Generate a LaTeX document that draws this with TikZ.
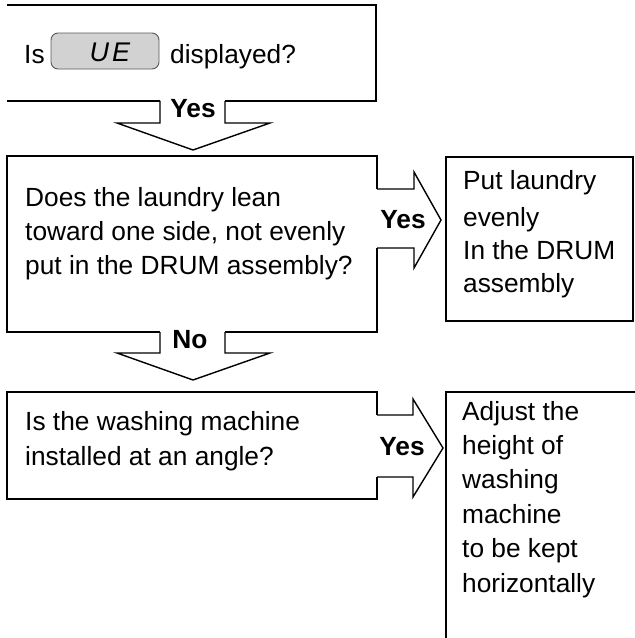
\documentclass[tikz,border=0pt]{standalone}
\usepackage{fontspec}
\setmainfont{Liberation Sans}
\begin{document}
\begin{tikzpicture}[x=1pt,y=-1pt,
  boxline/.style={draw=black,line width=1.8pt,line join=miter},
  arrowline/.style={draw=black,line width=1.4pt,line join=miter},
  txt/.style={anchor=base west,inner sep=0pt,font=\fontsize{26.3}{34}\selectfont},
  lbl/.style={anchor=base,inner sep=0pt,font=\fontsize{26.3}{34}\selectfont\bfseries}]
\useasboundingbox (0,0) rectangle (635,638);
\fill[white] (0,0) rectangle (635,638);
% box 1 with down arrow
\draw[boxline] (7,5) -- (376,5) -- (376,101) -- (225,101);
\draw[boxline] (160,101) -- (7,101) -- cycle;
\draw[arrowline] (225,101) -- (225,123) -- (270,123) -- (193,150) -- (117,123) -- (160,123) -- (160,101);
% box 2 with right arrow and down arrow
\draw[boxline] (377,189) -- (377,156) -- (7,156) -- (7,332) -- (160,332);
\draw[boxline] (225,332) -- (377,332) -- (377,248);
\draw[arrowline] (377,189) -- (414,189) -- (414,172) -- (441,220) -- (414,268) -- (414,248) -- (377,248);
\draw[arrowline] (225,332) -- (225,353) -- (270,353) -- (193,380) -- (117,353) -- (160,353) -- (160,332);
% box 3
\draw[boxline] (446,157) rectangle (633,321);
% box 4 with right arrow
\draw[boxline] (377,415) -- (377,392) -- (7,392) -- (7,499) -- (377,499) -- (377,477);
\draw[arrowline] (377,415) -- (413,415) -- (413,399) -- (443,448) -- (413,497) -- (413,477) -- (377,477);
% box 5 (open towards the edges)
\begin{scope}
\clip (0,0) rectangle (635,638);
\draw[boxline] (446,660) -- (446,392) -- (660,392);
\end{scope}
% LCD display
\draw[draw=gray!70!black,fill=gray!35,line width=0.9pt,rounded corners=7pt] (51,33) rectangle (159,69);
\node[inner sep=0pt,font=\fontsize{27}{27}\selectfont\itshape,text=black] (lcd) at (110,52) {U\kern3ptE};
% texts
\node[txt] (t1a) at (24,63) {Is};
\node[txt] (t1b) at (170,63) {displayed?};
\node[lbl] (y1) at (193,117) {Yes};
\node[txt] (t2) at (25,206) {Does the laundry lean};
\node[txt] (t2b) at (25,240) {toward one side, not evenly};
\node[txt] (t2c) at (25,274) {put in the DRUM assembly?};
\node[lbl] (y2) at (403,228) {Yes};
\node[txt] (t3a) at (463,189) {Put laundry};
\node[txt] (t3b) at (463,226) {evenly};
\node[txt] (t3c) at (463,259) {In the DRUM};
\node[txt] (t3d) at (463,292) {assembly};
\node[lbl] (n1) at (190,348) {No};
\node[txt] (t4a) at (25,430) {Is the washing machine};
\node[txt] (t4b) at (25,465) {installed at an angle?};
\node[lbl] (y3) at (402,455) {Yes};
\node[txt] (t5a) at (462,420) {Adjust the};
\node[txt] (t5b) at (462,454) {height of};
\node[txt] (t5c) at (462,488) {washing};
\node[txt] (t5d) at (462,523) {machine};
\node[txt] (t5e) at (462,557) {to be kept};
\node[txt] (t5f) at (462,592) {horizontally};
\end{tikzpicture}
\end{document}
